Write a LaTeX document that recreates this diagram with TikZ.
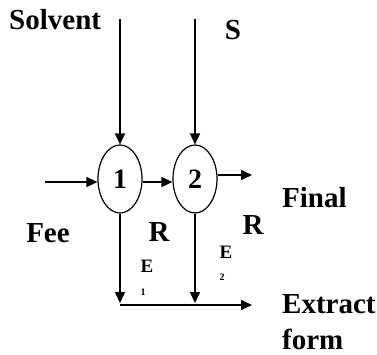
\documentclass[tikz,border=0pt]{standalone}
\usepackage{fontspec}
\setmainfont{Liberation Serif}
\usetikzlibrary{shapes.geometric,arrows.meta}
\begin{document}
\begin{tikzpicture}[x=1pt,y=-1pt,
  lbl/.style={font=\fontsize{29}{30}\selectfont\bfseries, inner sep=0pt},
  smalllbl/.style={font=\fontsize{19}{20}\selectfont\bfseries, inner sep=0pt},
  tinylbl/.style={font=\fontsize{10}{11}\selectfont\bfseries, inner sep=0pt},
  stage/.style={ellipse, draw, line width=1.2pt, minimum width=44pt, minimum height=68pt, inner sep=0pt, font=\fontsize{28}{30}\selectfont\bfseries},
  flow/.style={line width=1.6pt, -{Triangle[length=11pt,width=10pt]}},
  plainline/.style={line width=1.6pt}]
\useasboundingbox (0,0) rectangle (377,354);
% stages
\node[stage] (e1) at (120,179) {1};
\node[stage] (e2) at (195,179) {2};
% free ends
\coordinate (s1) at (120,19);
\coordinate (s2) at (195,19);
\coordinate (f0) at (45,182);
\coordinate (r0) at (252,175);
\coordinate (base) at (0,305);
\coordinate (j1) at (e1.south |- base);
\coordinate (j2) at (e2.south |- base);
\coordinate (xout) at (252,305);
% connectors
\draw[flow] (s1) -- (e1.north);
\draw[flow] (s2) -- (e2.north);
\draw[flow] (f0) -- (f0 -| e1.west);
\draw[flow] (e1.east |- f0) -- (e2.west |- f0);
\draw[flow] (e2.east |- r0) -- (r0);
\draw[flow, shorten >=2pt] (e1.south) -- (j1);
\draw[flow, shorten >=2pt] (e2.south) -- (j2);
\draw[flow] (j1) -- (xout);
% labels
\node[lbl, anchor=west] (tsolv) at (9,20) {Solvent};
\node[lbl] (ts) at (233,30) {S};
\node[lbl, anchor=west] (tfinal) at (282,198) {Final};
\node[lbl] (tfee) at (48,233) {Fee};
\node[lbl] (tr1) at (159,232) {R};
\node[lbl] (tr2) at (253,225) {R};
\node[smalllbl] (te1) at (147,266) {E};
\node[tinylbl] (te1s) at (143,292) {1};
\node[smalllbl] (te2) at (226,252) {E};
\node[tinylbl] (te2s) at (222,277) {2};
\node[lbl, anchor=west] (text) at (282,304) {Extract};
\node[lbl, anchor=west] (tform) at (282,339) {form};
\end{tikzpicture}
\end{document}
